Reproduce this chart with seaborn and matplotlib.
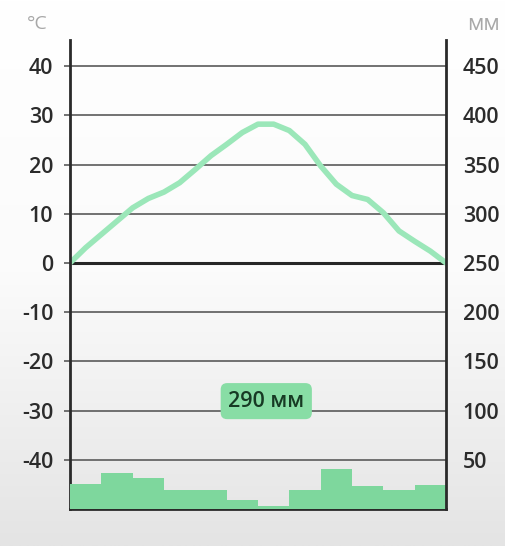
import numpy as np
import pandas as pd
import matplotlib
matplotlib.use("Agg")
import matplotlib.pyplot as plt
import seaborn as sns
from matplotlib.colors import LinearSegmentedColormap

months = ["я", "ф", "м", "а", "м", "и", "и", "а", "с", "о", "н", "д"]
precip_mm = [25, 37, 31, 19, 19, 9, 3, 19, 41, 23, 19, 24]
# temperature read every half month (start of Jan ... end of Dec)
temp_nodes = [0, 3.1, 5.8, 8.5, 11.2, 13.1, 14.4, 16.3, 19.0, 21.8, 24.1, 26.5, 28.2,
              28.2, 26.9, 24.1, 19.7, 16.0, 13.7, 12.9, 10.2, 6.5, 4.4, 2.4, 0]
temp_ticks = [40, 30, 20, 10, 0, -10, -20, -30, -40]
mm_ticks = [450, 400, 350, 300, 250, 200, 150, 100, 50]
total_label = "290 мм"

sns.set_theme(style="white")
plt.rcParams["font.family"] = ["Open Sans", "DejaVu Sans"]

W, H = 506, 546
fig = plt.figure(figsize=(W / 100, H / 100), dpi=100)

# background gradient
bg = fig.add_axes([0, 0, 1, 1], zorder=-10)
grad = np.linspace(0, 1, 256).reshape(-1, 1)
cmap = LinearSegmentedColormap.from_list("bg", ["#ffffff", "#fbfbfb", "#e4e4e4"])
bg.imshow(grad, aspect="auto", cmap=cmap, extent=[0, 1, 0, 1], origin="upper")
bg.axis("off")

left, right, bottom, top = 70, 446, 509, 40
ax = fig.add_axes([left / W, 1 - bottom / H, (right - left) / W, (bottom - top) / H])
ax.patch.set_alpha(0)

tmin, tmax = -50, 45.3
ax.set_ylim(tmin, tmax)
ax.set_xlim(-0.5, 11.5)

ax2 = ax.twinx()
ax2.set_ylim(250 + 5 * tmin, 250 + 5 * tmax)
ax2.patch.set_alpha(0)

# precipitation bars
dfp = pd.DataFrame({"pos": np.arange(len(months)), "mm": precip_mm})
sns.barplot(data=dfp, x="pos", y="mm", ax=ax2, color="#7ed79d", width=1.0,
            saturation=1, native_scale=True, edgecolor="none", linewidth=0, zorder=1)
ax2.set_xlim(-0.5, 11.5)

# gridlines
for t in temp_ticks:
    ax.axhline(t, color="#262626" if t == 0 else "#5a5a5a",
               lw=2.2 if t == 0 else 1.2, zorder=2)

# temperature line
step = 12 / (len(temp_nodes) - 1)
dft = pd.DataFrame({"x": np.arange(len(temp_nodes)) * step - 0.5, "t": temp_nodes})
sns.lineplot(data=dft, x="x", y="t", ax=ax, color="#9be7b9", lw=4,
             solid_capstyle="round", solid_joinstyle="round", zorder=5)
ax.set_xlim(-0.5, 11.5)

# ticks
ax.set_yticks(temp_ticks)
ax.set_yticklabels([str(t) for t in temp_ticks])
ax.tick_params(axis="y", length=4, width=1.2, color="#5a5a5a", pad=8,
               labelsize=15.5, labelcolor="#2b2b2b")
for lab in ax.get_yticklabels():
    lab.set_fontweight("semibold")
ax2.set_yticks(mm_ticks)
ax2.set_yticklabels([str(m) for m in mm_ticks])
ax2.tick_params(axis="y", length=0, pad=12, labelsize=15.5, labelcolor="#2b2b2b")
for lab in ax2.get_yticklabels():
    lab.set_fontweight("semibold")

ax.set_xticks(np.arange(len(months)))
ax.set_xticklabels(months)
ax.tick_params(axis="x", length=0, pad=5, labelsize=15, labelcolor="#a9a9a9")
ax2.set_xticks([])
ax2.set_xlabel("")
ax2.set_ylabel("")
ax.set_xlabel("")
ax.set_ylabel("")

for a in (ax, ax2):
    for s in a.spines.values():
        s.set_visible(False)
ax.spines["left"].set_visible(True)
ax.spines["bottom"].set_visible(True)
ax2.spines["right"].set_visible(True)
for s in (ax.spines["left"], ax.spines["bottom"], ax2.spines["right"]):
    s.set_color("#2a2a2a")
    s.set_linewidth(2)
    s.set_zorder(6)

# unit labels
fig.text(37 / W, 1 - 24 / H, "°C", ha="center", va="center", fontsize=14, color="#a8a8a8")
fig.text(484 / W, 1 - 25 / H, "мм", ha="center", va="center", fontsize=16, color="#a8a8a8")

# total precipitation badge
ax.text(0.522, 0.23, total_label, transform=ax.transAxes, ha="center", va="center",
        fontsize=15.5, fontweight="semibold", color="#173a24", zorder=8,
        bbox=dict(boxstyle="round,pad=0.35,rounding_size=0.3", fc="#88dda5", ec="none"))

fig.savefig("out.png", dpi=100)
